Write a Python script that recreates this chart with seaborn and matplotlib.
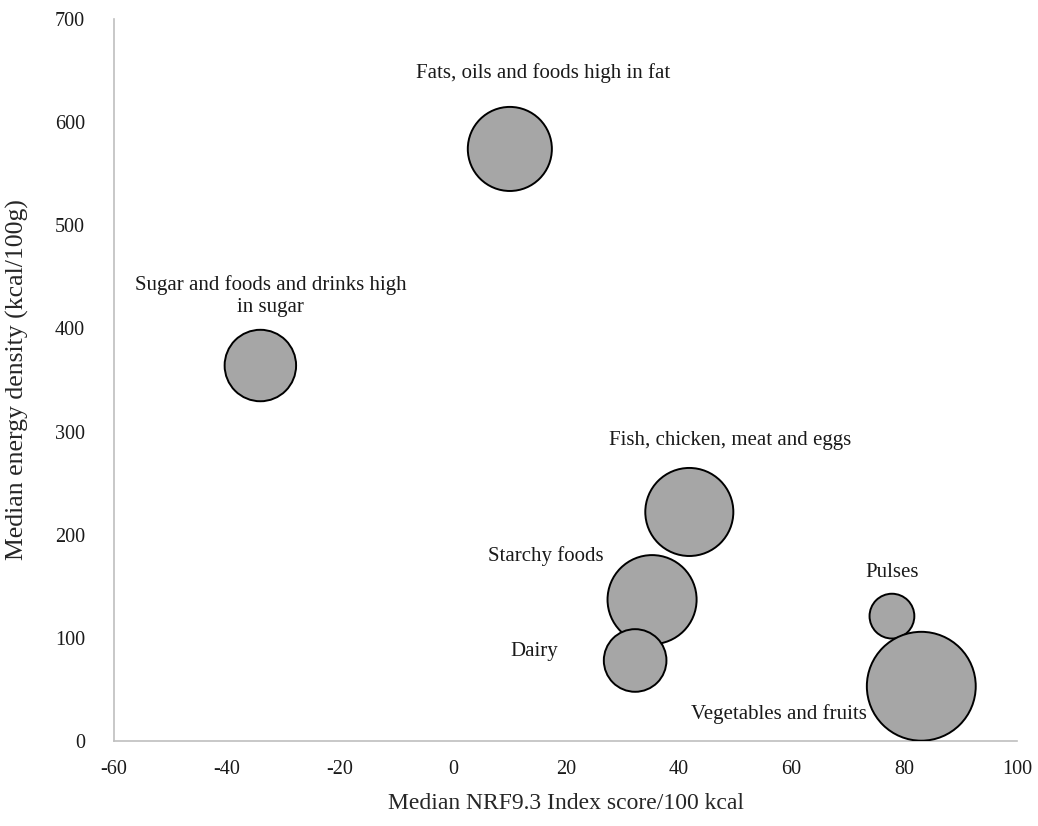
import numpy as np
import pandas as pd
import matplotlib
matplotlib.use("Agg")
import matplotlib.pyplot as plt
import seaborn as sns

# data
groups = ["Fats, oils and foods high in fat",
          "Sugar and foods and drinks high\nin sugar",
          "Fish, chicken, meat and eggs",
          "Starchy foods",
          "Dairy",
          "Pulses",
          "Vegetables and fruits"]
nrf_score = [10.1, -34.1, 41.9, 35.3, 32.3, 77.8, 83.0]
energy_density = [574, 364, 222, 137, 78, 121, 53]
bubble_share = [15.5, 11.2, 17.0, 17.4, 8.6, 4.4, 26.0]

df = pd.DataFrame({"group": groups, "nrf": nrf_score,
                   "energy": energy_density, "share": bubble_share})

sns.set_theme(style="white")
plt.rcParams['font.family'] = ['Liberation Serif', 'DejaVu Serif']
plt.rcParams['axes.unicode_minus'] = False

fig = plt.figure(figsize=(10.38, 8.26), dpi=100)
ax = fig.add_axes([0.110, 0.103, 0.870, 0.874])

sns.scatterplot(data=df, x="nrf", y="energy", size="share",
                size_norm=(0, 100), sizes=(0, 23640),
                color="#a6a6a6", edgecolor="black", linewidth=1.4,
                alpha=1, legend=False, ax=ax, zorder=3)

# label positions (text centres)
label_xy = [(16.0, 648), (-32.3, 431), (49.1, 291), (16.5, 179),
            (14.5, 87), (77.9, 163), (57.8, 26)]
for name, (lx, ly) in zip(groups, label_xy):
    ax.text(lx, ly, name, ha="center", va="center", fontsize=15,
            color="#1a1a1a", linespacing=1.2)

ax.set_xlim(-60, 100)
ax.set_ylim(0, 700)
ax.set_xticks(np.arange(-60, 101, 20))
ax.set_yticks(np.arange(0, 701, 100))
ax.tick_params(axis="both", length=0, labelsize=14.5, colors="#1a1a1a")
ax.tick_params(axis="x", pad=14)
ax.tick_params(axis="y", pad=21)

ax.set_xlabel("Median NRF9.3 Index score/100 kcal", fontsize=17, va="center")
ax.set_ylabel("Median energy density (kcal/100g)", fontsize=18.5, va="center")
ax.xaxis.set_label_coords(0.5, -0.086)
ax.yaxis.set_label_coords(-0.107, 0.5)

sns.despine(ax=ax)
for s in ["left", "bottom"]:
    ax.spines[s].set_color("#bfbfbf")
    ax.spines[s].set_linewidth(1.2)

fig.savefig("out.png", dpi=100)
